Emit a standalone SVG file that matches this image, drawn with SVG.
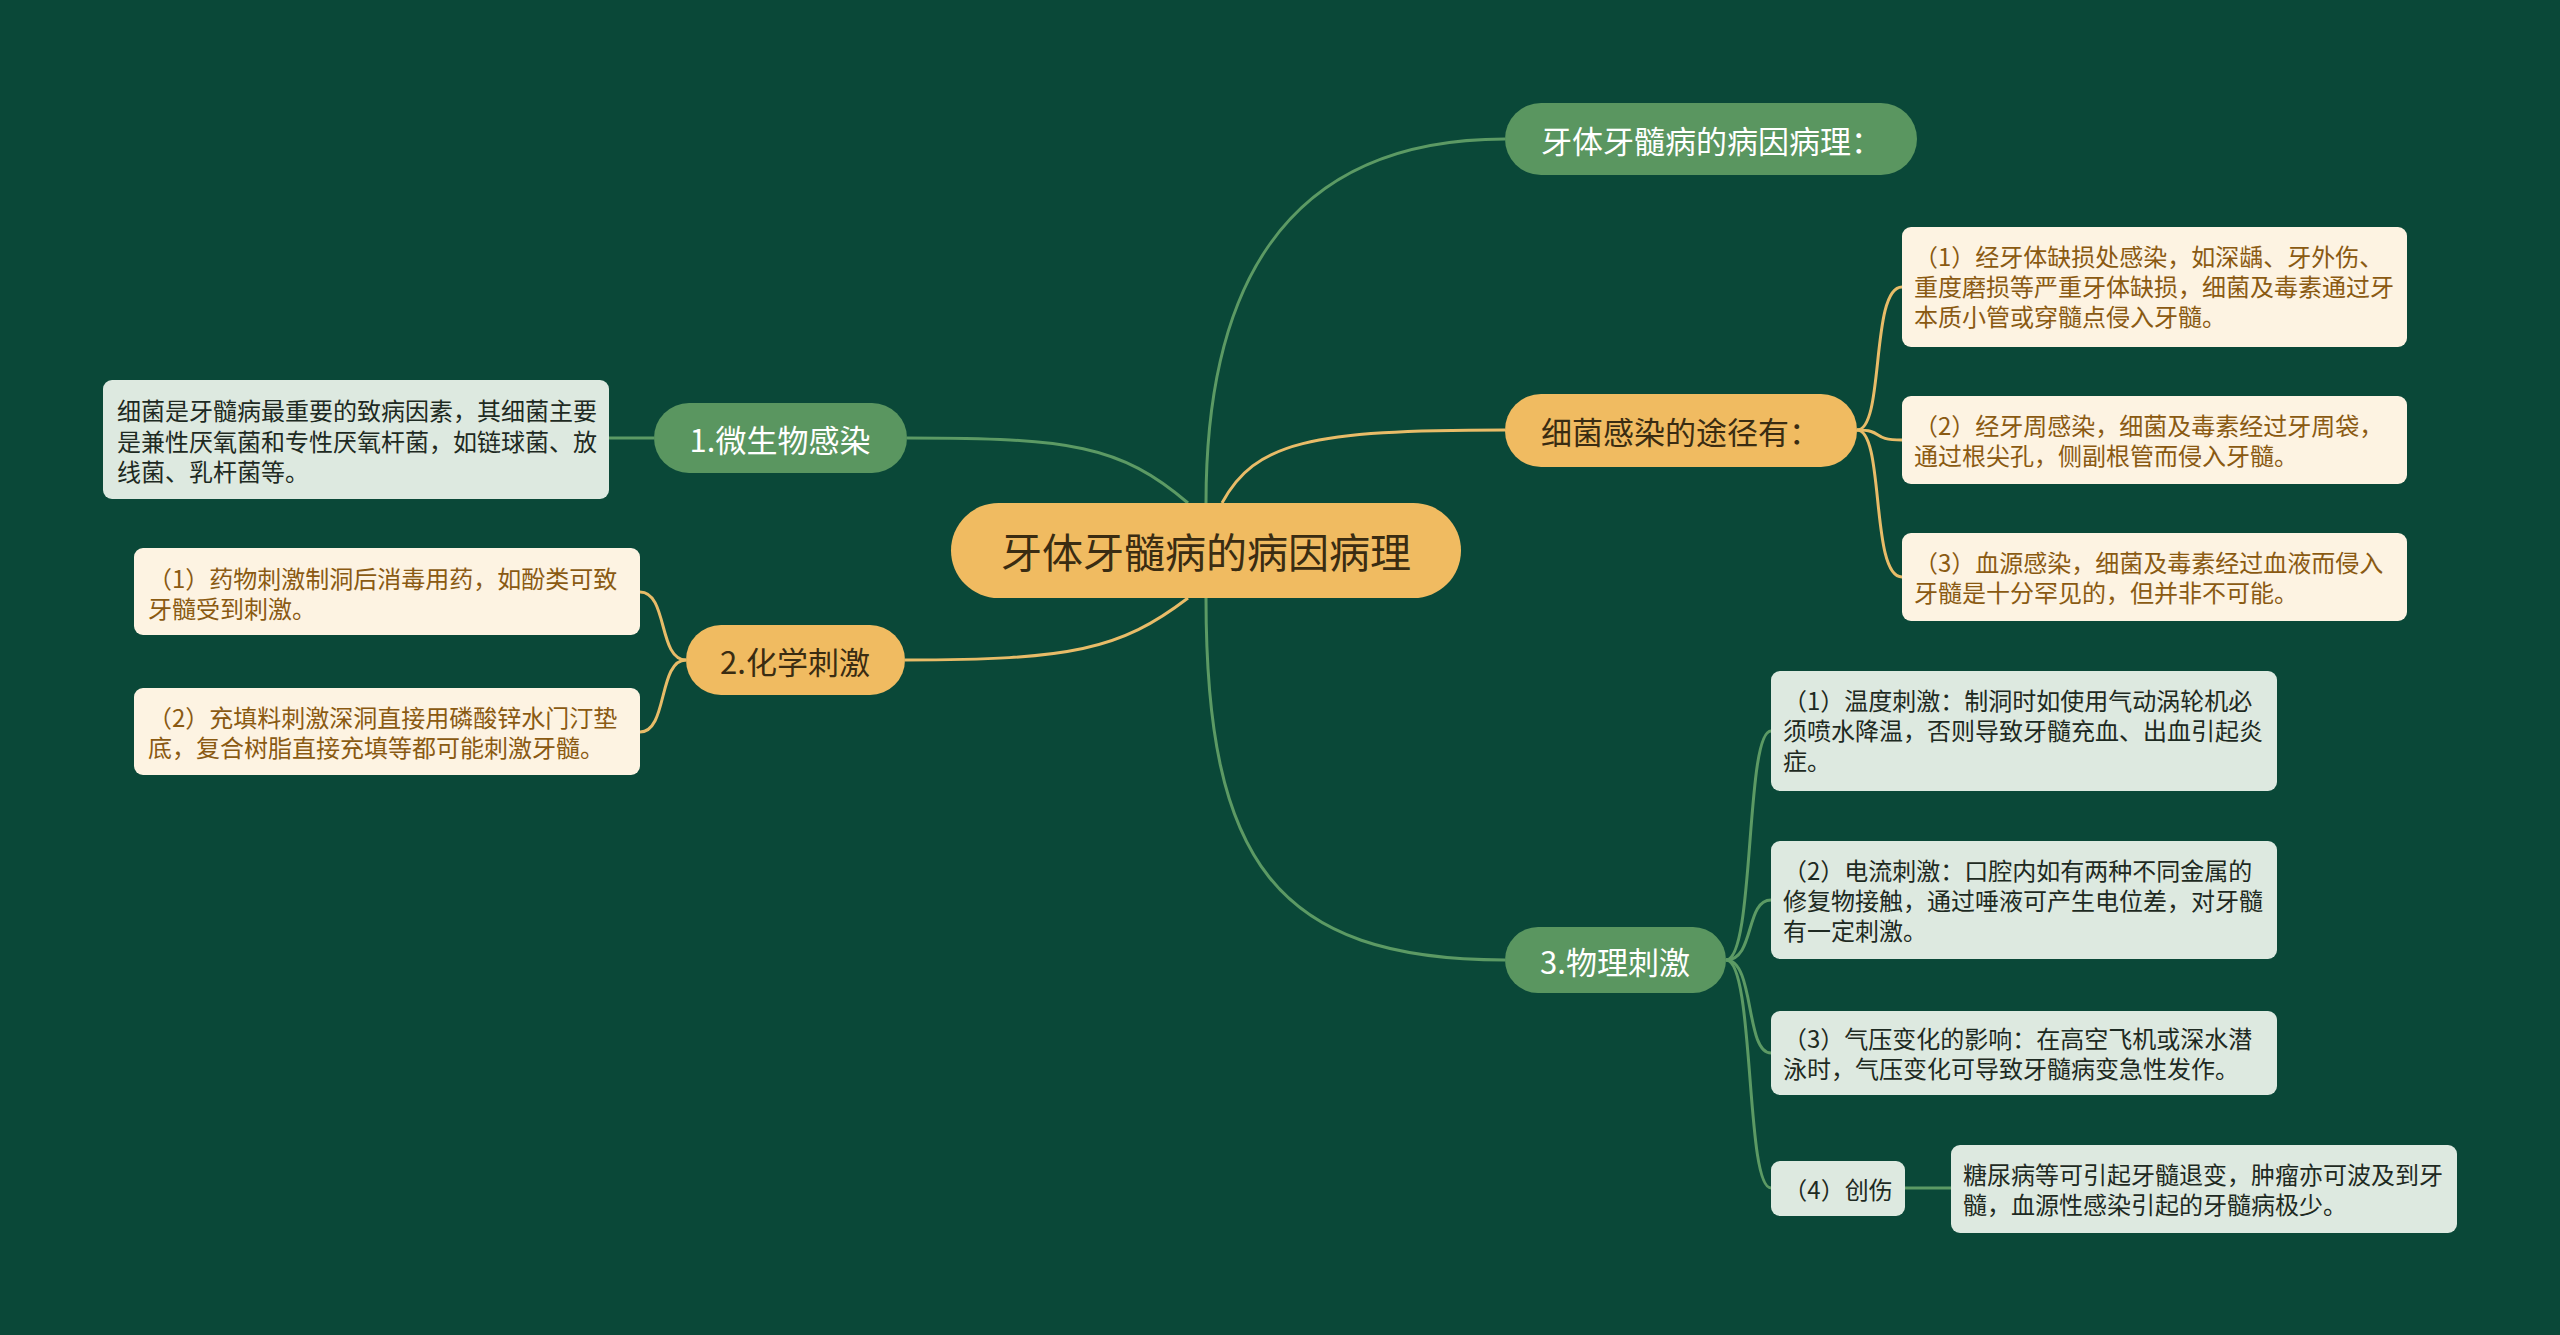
<svg xmlns="http://www.w3.org/2000/svg" width="2560" height="1335" viewBox="0 0 2560 1335">
<style>
text{font-family:"Noto Sans CJK SC","Noto Sans",sans-serif;dominant-baseline:central}
.bg{fill:#0A4838}
.gn{fill:#5A9660}
.gd{fill:#F0BB61}
.cream{fill:#FDF3E2}
.lg{fill:#DDE9E0}
.tw{fill:#FFFFFF;font-size:31px}
.td{fill:#3A2C12;font-size:31px}
.tc{fill:#3A2C12;font-size:41px}
.tb{fill:#8A5A12;font-size:24px}
.tg{fill:#1E2A22;font-size:24px}
.lgreen{fill:none;stroke:#5C9A64;stroke-width:3}
.lgold{fill:none;stroke:#E8BC68;stroke-width:3}
</style>
<rect class="bg" x="0" y="0" width="2560" height="1335"/>
<g id="connectors">
<path class="lgreen" d="M1206,503 C1206,300 1275,139 1505,139"/>
<path class="lgold" d="M1222,503 C1255,442 1310,430 1505,430"/>
<path class="lgreen" d="M1206,598 C1206,860 1275,960 1505,960"/>
<path class="lgreen" d="M907,438 C1070,438 1120,445 1188,503"/>
<path class="lgold" d="M905,660 C1070,660 1120,650 1188,598"/>
<path class="lgreen" d="M609,438 L654,438"/>
<path class="lgold" d="M1857,430 C1885,430 1870,287 1902,287"/>
<path class="lgold" d="M1857,430 C1885,430 1870,440 1902,440"/>
<path class="lgold" d="M1857,430 C1885,430 1870,577 1902,577"/>
<path class="lgold" d="M686,660 C658,660 668,592 640,592"/>
<path class="lgold" d="M686,660 C658,660 668,732 640,732"/>
<path class="lgreen" d="M1726,960 C1755,960 1745,731 1771,731"/>
<path class="lgreen" d="M1726,960 C1755,960 1745,900 1771,900"/>
<path class="lgreen" d="M1726,960 C1755,960 1745,1053 1771,1053"/>
<path class="lgreen" d="M1726,960 C1755,960 1745,1188 1771,1188"/>
<path class="lgreen" d="M1905,1188 L1951,1188"/>
</g>
<g id="center">
<rect class="gd" x="951" y="503" width="510" height="95" rx="47.5"/>
<text class="tc" x="1206" y="550" text-anchor="middle">牙体牙髓病的病因病理</text>
</g>
<g id="n-top">
<rect class="gn" x="1505" y="103" width="412" height="72" rx="36"/>
<text class="tw" x="1541" y="139">牙体牙髓病的病因病理：</text>
</g>
<g id="n-bact">
<rect class="gd" x="1505" y="394" width="352" height="73" rx="36"/>
<text class="td" x="1541" y="430">细菌感染的途径有：</text>
</g>
<g id="b-r1">
<rect class="cream" x="1902" y="227" width="505" height="120" rx="9"/>
<text class="tb" x="1914" y="255">（1）经牙体缺损处感染，如深龋、牙外伤、</text>
<text class="tb" x="1914" y="285">重度磨损等严重牙体缺损，细菌及毒素通过牙</text>
<text class="tb" x="1914" y="315">本质小管或穿髓点侵入牙髓。</text>
</g>
<g id="b-r2">
<rect class="cream" x="1902" y="396" width="505" height="88" rx="9"/>
<text class="tb" x="1914" y="424">（2）经牙周感染，细菌及毒素经过牙周袋，</text>
<text class="tb" x="1914" y="454">通过根尖孔，侧副根管而侵入牙髓。</text>
</g>
<g id="b-r3">
<rect class="cream" x="1902" y="533" width="505" height="88" rx="9"/>
<text class="tb" x="1914" y="561">（3）血源感染，细菌及毒素经过血液而侵入</text>
<text class="tb" x="1914" y="591">牙髓是十分罕见的，但并非不可能。</text>
</g>
<g id="n-micro">
<rect class="gn" x="654" y="403" width="253" height="70" rx="35"/>
<text class="tw" x="780" y="438" text-anchor="middle">1.微生物感染</text>
</g>
<g id="b-micro">
<rect class="lg" x="103" y="380" width="506" height="119" rx="9"/>
<text class="tg" x="117" y="409">细菌是牙髓病最重要的致病因素，其细菌主要</text>
<text class="tg" x="117" y="440">是兼性厌氧菌和专性厌氧杆菌，如链球菌、放</text>
<text class="tg" x="117" y="470">线菌、乳杆菌等。</text>
</g>
<g id="n-chem">
<rect class="gd" x="686" y="625" width="219" height="70" rx="35"/>
<text class="td" x="795" y="660" text-anchor="middle">2.化学刺激</text>
</g>
<g id="b-c1">
<rect class="cream" x="134" y="548" width="506" height="87" rx="9"/>
<text class="tb" x="148" y="577">（1）药物刺激制洞后消毒用药，如酚类可致</text>
<text class="tb" x="148" y="607">牙髓受到刺激。</text>
</g>
<g id="b-c2">
<rect class="cream" x="134" y="688" width="506" height="87" rx="9"/>
<text class="tb" x="148" y="716">（2）充填料刺激深洞直接用磷酸锌水门汀垫</text>
<text class="tb" x="148" y="746">底，复合树脂直接充填等都可能刺激牙髓。</text>
</g>
<g id="n-phys">
<rect class="gn" x="1505" y="927" width="221" height="66" rx="33"/>
<text class="tw" x="1615" y="960" text-anchor="middle">3.物理刺激</text>
</g>
<g id="b-p1">
<rect class="lg" x="1771" y="671" width="506" height="120" rx="9"/>
<text class="tg" x="1783" y="699">（1）温度刺激：制洞时如使用气动涡轮机必</text>
<text class="tg" x="1783" y="729">须喷水降温，否则导致牙髓充血、出血引起炎</text>
<text class="tg" x="1783" y="759">症。</text>
</g>
<g id="b-p2">
<rect class="lg" x="1771" y="841" width="506" height="118" rx="9"/>
<text class="tg" x="1783" y="869">（2）电流刺激：口腔内如有两种不同金属的</text>
<text class="tg" x="1783" y="899">修复物接触，通过唾液可产生电位差，对牙髓</text>
<text class="tg" x="1783" y="929">有一定刺激。</text>
</g>
<g id="b-p3">
<rect class="lg" x="1771" y="1011" width="506" height="84" rx="9"/>
<text class="tg" x="1783" y="1037">（3）气压变化的影响：在高空飞机或深水潜</text>
<text class="tg" x="1783" y="1067">泳时，气压变化可导致牙髓病变急性发作。</text>
</g>
<g id="b-p4">
<rect class="lg" x="1771" y="1161" width="134" height="55" rx="9"/>
<text class="tg" x="1838" y="1188" text-anchor="middle">（4）创伤</text>
</g>
<g id="b-p4a">
<rect class="lg" x="1951" y="1145" width="506" height="88" rx="9"/>
<text class="tg" x="1963" y="1173">糖尿病等可引起牙髓退变，肿瘤亦可波及到牙</text>
<text class="tg" x="1963" y="1203">髓，血源性感染引起的牙髓病极少。</text>
</g>
</svg>
